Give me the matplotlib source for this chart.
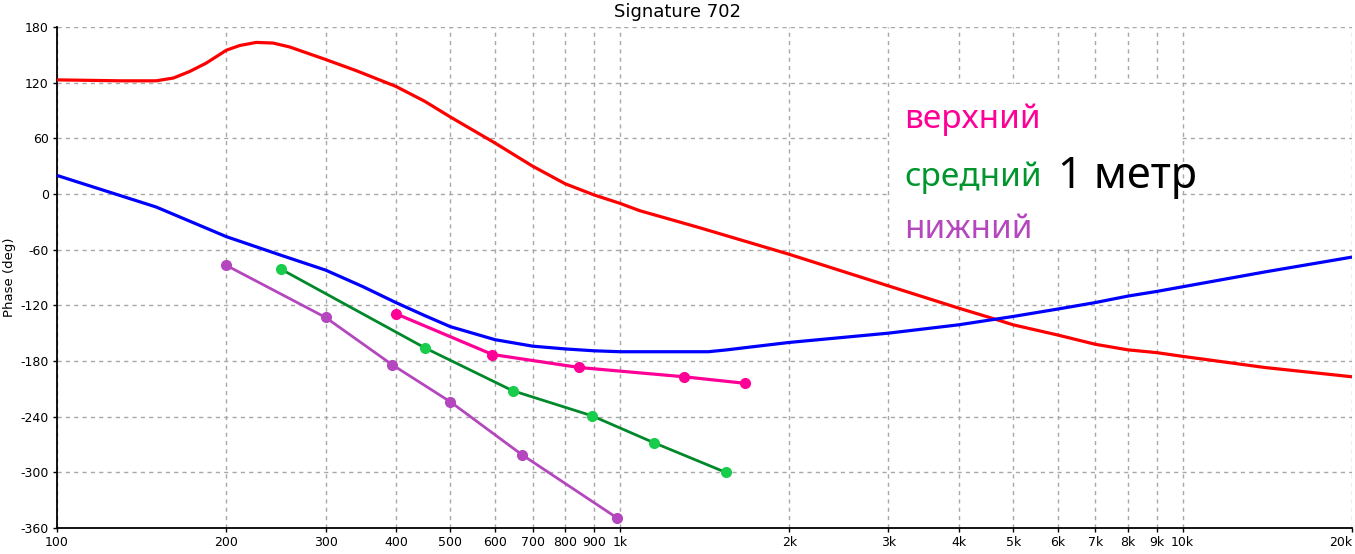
import numpy as np
import matplotlib
matplotlib.use("Agg")
import matplotlib.pyplot as plt
from matplotlib.patches import Rectangle
from matplotlib.ticker import FixedLocator, NullLocator

plt.rcParams["axes.unicode_minus"] = False

# measured curves (Hz, deg)
red_f = [100, 130, 150, 161, 172, 184, 200, 211, 226, 242, 259, 300, 340,
         400, 450, 500, 600, 700, 800, 900, 1000, 1085, 1380, 2000, 3000,
         4000, 4650, 5000, 6000, 7000, 8000, 9000, 10000, 14000, 20000]
red_deg = [123, 122, 122, 125, 132, 141, 155, 160, 163.4, 162.7, 158.5, 145,
           133, 116, 100, 83, 55, 30, 11, -1, -10, -18, -36, -65, -99,
           -123, -135, -141, -152, -162, -168, -171, -175, -187, -197]

blue_f = [100, 150, 200, 250, 300, 350, 400, 450, 500, 600, 700, 800, 900,
          1000, 1200, 1437, 1550, 1650, 2000, 3000, 4000, 5000, 6000, 7000,
          8000, 9000, 10000, 14000, 20000]
blue_deg = [20, -14, -46, -66, -82, -100, -117, -131, -143, -157, -164, -167,
            -169, -170, -170, -170, -168, -166, -160, -150, -141, -132, -124,
            -117, -110, -105, -100, -84, -68]

top_f = [400, 594, 847, 1300, 1667]
top_deg = [-129, -173, -187, -197, -204]

mid_f = [250, 451, 645, 892, 1149, 1542]
mid_deg = [-81, -166, -212, -239, -268, -300]

low_f = [200, 300, 394, 500, 670, 988]
low_deg = [-77, -133, -184, -224, -281, -349]

x_ticks = [100, 200, 300, 400, 500, 600, 700, 800, 900, 1000, 2000, 3000,
           4000, 5000, 6000, 7000, 8000, 9000, 10000, 20000]
x_labels = ["100", "200", "300", "400", "500", "600", "700", "800", "900",
            "1k", "2k", "3k", "4k", "5k", "6k", "7k", "8k", "9k", "10k", "20k"]
y_ticks = [180, 120, 60, 0, -60, -120, -180, -240, -300, -360]

labels = ["верхний", "средний", "нижний"]
label_colors = ["#ff0096", "#00962d", "#b446be"]
label_y = [80, 18, -38]

fig = plt.figure(figsize=(13.55, 5.54), dpi=100)
ax = fig.add_axes([57 / 1355, 26 / 554, 1295 / 1355, 501 / 554])

ax.set_xscale("log")
ax.set_xlim(100, 20000)
ax.set_ylim(-360, 180)

ax.xaxis.set_major_locator(FixedLocator(x_ticks))
ax.xaxis.set_minor_locator(NullLocator())
ax.set_xticklabels(x_labels)
ax.get_xticklabels()[-1].set_horizontalalignment("right")
ax.set_yticks(y_ticks)
ax.tick_params(labelsize=9, length=3, width=1, pad=3)
ax.grid(True, color="#a8a8a8", linestyle=(0, (3, 3)), linewidth=1)
ax.set_axisbelow(True)
for s in ["top", "right"]:
    ax.spines[s].set_visible(False)
ax.spines["left"].set_linewidth(1.3)
ax.spines["bottom"].set_linewidth(1.3)

ax.plot(red_f, red_deg, color="#ff0000", lw=2.3, zorder=3)
ax.plot(blue_f, blue_deg, color="#0000ff", lw=2.3, zorder=3)

ax.plot(top_f, top_deg, color="#ff0096", lw=2.3, zorder=4)
ax.plot(top_f, top_deg, "o", color="#ff0096", ms=7, zorder=5)
ax.plot(mid_f, mid_deg, color="#00882a", lw=2, zorder=4)
ax.plot(mid_f, mid_deg, "o", color="#18cc4c", ms=7, zorder=5)
ax.plot(low_f, low_deg, color="#b446be", lw=2, zorder=4)
ax.plot(low_f, low_deg, "o", color="#b446be", ms=7, zorder=5)

# white box behind the annotation
ax.add_patch(Rectangle((3030, -56), 9900 - 3030, 119 + 56, facecolor="white",
                       edgecolor="none", zorder=1.5))

for t, c, yy in zip(labels, label_colors, label_y):
    ax.text(3200, yy, t, color=c, fontsize=24, family="Noto Sans",
            va="center", ha="left", zorder=6)
ax.text(6000, 18, "1 метр", color="black", fontsize=31, family="Noto Sans",
        va="center", ha="left", zorder=6)

ax.set_ylabel("Phase (deg)", fontsize=9.5, labelpad=3)
fig.text(0.5, 1 - 12 / 554, "Signature 702", fontsize=13, ha="center",
         va="center")

fig.savefig("out.png", dpi=100)
